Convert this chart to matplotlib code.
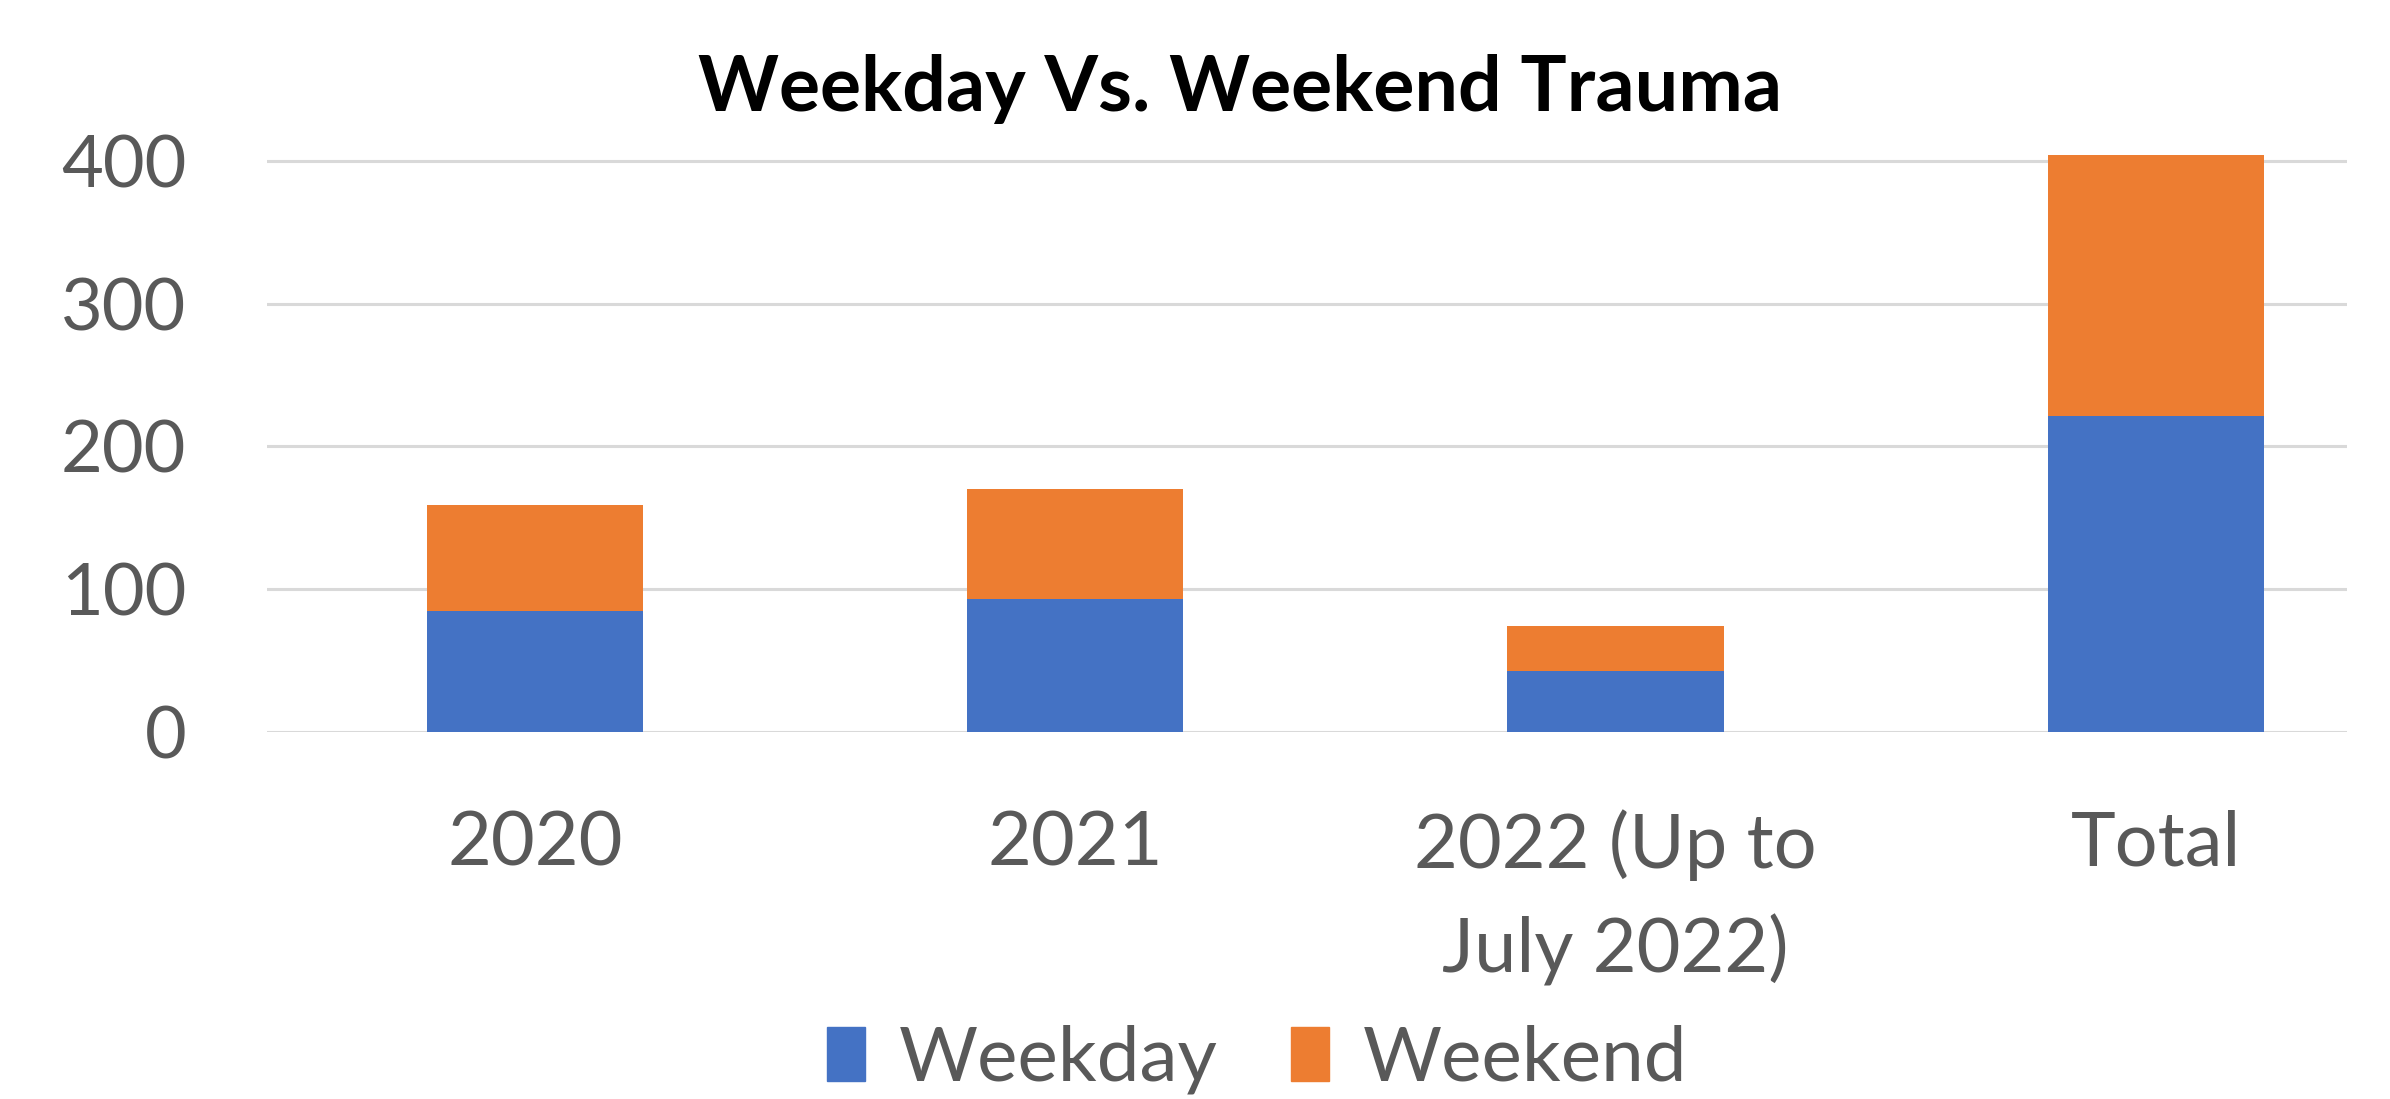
import matplotlib
matplotlib.use("Agg")
import matplotlib.pyplot as plt
from matplotlib.patches import Patch

categories = ["2020", "2021", "2022 (Up to\nJuly 2022)", "Total"]
weekday = [85, 93, 43, 221]
weekend = [74, 77, 31, 183]
yticks = [0, 100, 200, 300, 400]
series_names = ["Weekday", "Weekend"]
title = "Weekday Vs. Weekend Trauma"

BLUE = "#4472C4"
ORANGE = "#ED7D31"
GRAY = "#595959"
GRID = "#D9D9D9"

plt.rcParams['font.family'] = ['Lato', 'DejaVu Sans']

fig = plt.figure(figsize=(23.9, 10.99), dpi=100)
ax = fig.add_axes([0.1117, 0.334, 0.982 - 0.1117, 0.8795 - 0.334])

x = list(range(len(categories)))
ax.bar(x, weekday, width=0.4, color=BLUE, zorder=3)
ax.bar(x, weekend, width=0.4, bottom=weekday, color=ORANGE, zorder=3)

ax.set_xlim(-0.496, 3.354)
ax.set_ylim(0, 420)
ax.set_yticks(yticks)
ax.set_yticklabels([str(v) for v in yticks])
ax.yaxis.grid(True, color=GRID, linewidth=2.2, zorder=0)
ax.set_axisbelow(True)
for s in ax.spines.values():
    s.set_visible(False)
ax.tick_params(axis='y', length=0, pad=58, labelsize=52, labelcolor=GRAY)
ax.tick_params(axis='x', length=0, pad=56, labelsize=54.5, labelcolor=GRAY)
ax.set_xticks(x)
ax.set_xticklabels(categories, linespacing=1.55)

fig.text(0.519, 1 - 89 / 1099, title, ha='center', va='center',
         fontsize=55.5, fontweight='bold', color='black')

handles = [Patch(color=BLUE), Patch(color=ORANGE)]
fig.legend(handles, series_names, loc='center', bbox_to_anchor=(0.526, 0.036),
           ncol=2, frameon=False, fontsize=55, labelcolor=GRAY,
           handlelength=0.5, handleheight=0.7, handletextpad=0.45, columnspacing=0.95)

fig.savefig("out.png", dpi=100, facecolor="white")
